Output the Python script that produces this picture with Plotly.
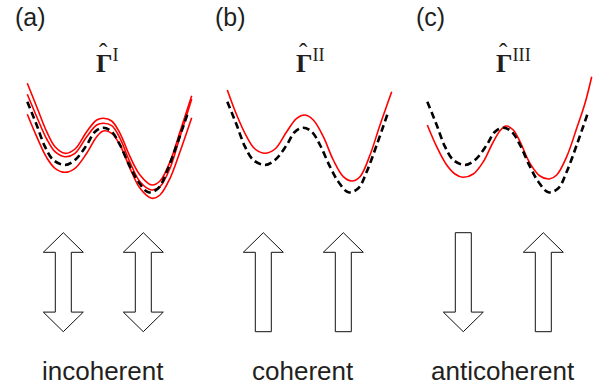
import plotly.graph_objects as go

# ---------------- data (panel-local units) ----------------
PANELS = ["a", "b", "c"]
PANEL_TAGS = ["(a)", "(b)", "(c)"]
OPERATORS = ["I", "II", "III"]
STATE_LABELS = ["incoherent", "coherent", "anticoherent"]

# unperturbed double-well (dashed, same in every panel)
BASE_X = [27.3, 36.7, 45, 53.3, 65, 75, 86.7, 95, 103.3, 111.7, 120, 130, 138.3, 148.3, 158.3, 166.7, 176.7, 188.3]
BASE_E = [101.7, 125, 146.7, 160, 165, 160, 145, 131.7, 127.7, 131.7, 145, 166.7, 181.7, 192.3, 188.3, 171.7, 145, 111.7]

# perturbed potentials (red)
A_X = [27.3, 36.7, 46.7, 55, 65, 75, 86.7, 96.7, 103.3, 111.7, 120, 130, 140, 151.7, 160, 170, 180, 191.7]
A_E1 = [83.3, 106.7, 131.7, 146.7, 153.3, 149, 131.7, 120, 118.3, 121, 133.3, 156.7, 175, 185, 181, 161.7, 131.7, 95.7]
A_E2 = [94.3, 116.7, 139, 151.7, 156.7, 153.3, 136.7, 125, 123.3, 125.7, 138.3, 162.3, 181.7, 190, 186.7, 168.3, 136.7, 99]
A_E3 = [114.3, 136.7, 157.7, 168.3, 172.3, 168.3, 153.3, 136.7, 131, 133.3, 145, 168.3, 188.3, 198.3, 195, 178.3, 151.7, 117.7]

B_X = [27.3, 36.7, 46.7, 55, 65, 75, 86.7, 96.7, 105, 113.3, 123.3, 133.3, 143.3, 151.7, 160, 170, 180, 191.7]
B_E = [90, 115, 136.7, 149, 153.3, 149, 131.7, 118.3, 115, 120, 136.7, 160, 176.7, 181, 176.7, 155, 125, 91.7]

C_X = [27.3, 36.7, 46.7, 55, 62.7, 73.3, 83.3, 91.7, 100, 106, 113.3, 120, 130, 140, 149.3, 156.7, 166.7, 176.7, 185, 191.7]
C_E = [125, 146.7, 165, 174, 177.3, 174, 161.7, 145, 130.7, 126, 130, 141.7, 163.3, 176, 179, 175, 156.7, 128.3, 103.3, 76.7]

RED_CURVES = [
    [(A_X, A_E1), (A_X, A_E2), (A_X, A_E3)],
    [(B_X, B_E)],
    [(C_X, C_E)],
]

# spin states shown by arrows
SPIN_STATES = [["both", "both"], ["up", "up"], ["down", "up"]]

# ---------------- geometry / style ----------------
W, H = 606, 392
PANEL_W = 200
ARROW_CX = [63.3, 143.3]
ARROW_TOP, ARROW_BOT = 232.7, 331.7
HEAD_H, HEAD_HW, SHAFT_HW = 19.6, 20.0, 8.0
RED = "#ff0000"
TXT = "#231f20"
SANS = "Liberation Sans, Arial, Helvetica"
SERIF = "Liberation Serif, Times New Roman, serif"


def arrow_poly(cx, kind):
    t, b = ARROW_TOP, ARROW_BOT
    l, r = cx - SHAFT_HW, cx + SHAFT_HW
    hl, hr = cx - HEAD_HW, cx + HEAD_HW
    if kind == "up":
        xs = [cx, hr, r, r, l, l, hl, cx]
        ys = [t, t + HEAD_H, t + HEAD_H, b, b, t + HEAD_H, t + HEAD_H, t]
    elif kind == "down":
        xs = [l, r, r, hr, cx, hl, l, l]
        ys = [t, t, b - HEAD_H, b - HEAD_H, b, b - HEAD_H, b - HEAD_H, t]
    else:
        xs = [cx, hr, r, r, hr, cx, hl, l, l, hl, cx]
        ys = [t, t + HEAD_H, t + HEAD_H, b - HEAD_H, b - HEAD_H, b,
              b - HEAD_H, b - HEAD_H, t + HEAD_H, t + HEAD_H, t]
    return xs, ys


fig = go.Figure()
annotations = []
for i, p in enumerate(PANELS):
    xa = "x" if i == 0 else f"x{i+1}"
    for cx_, ce_ in RED_CURVES[i]:
        fig.add_trace(go.Scatter(x=cx_, y=ce_, xaxis=xa, yaxis="y", mode="lines",
                                 line=dict(color=RED, width=1.6, shape="spline", smoothing=1.0),
                                 showlegend=False, hoverinfo="skip"))
    fig.add_trace(go.Scatter(x=BASE_X, y=BASE_E, xaxis=xa, yaxis="y", mode="lines",
                             line=dict(color="black", width=2.6, dash="7px,4px",
                                       shape="spline", smoothing=1.0),
                             showlegend=False, hoverinfo="skip"))
    for cx, kind in zip(ARROW_CX, SPIN_STATES[i]):
        xs, ys = arrow_poly(cx, kind)
        fig.add_trace(go.Scatter(x=xs, y=ys, xaxis=xa, yaxis="y", mode="lines",
                                 fill="toself", fillcolor="white",
                                 line=dict(color="#111111", width=1),
                                 showlegend=False, hoverinfo="skip"))
    annotations.append(dict(x=30, y=17, xref=xa, yref="y", text=PANEL_TAGS[i],
                            showarrow=False, xanchor="center", yanchor="middle",
                            font=dict(family=SANS, size=25, color=TXT)))
    # operator symbol: bold Gamma with roman-numeral superscript, plus hat
    annotations.append(dict(x=94, y=61, xref=xa, yref="y",
                            text=f"<b>\u0393</b><sup>{OPERATORS[i]}</sup>",
                            showarrow=False, xanchor="left", yanchor="middle",
                            font=dict(family=SERIF, size=26, color=TXT)))
    annotations.append(dict(x=103, y=52, xref=xa, yref="y", text="\u02c6",
                            showarrow=False, xanchor="center", yanchor="middle",
                            font=dict(family=SERIF, size=25, color=TXT)))
    annotations.append(dict(x=103, y=371, xref=xa, yref="y", text=STATE_LABELS[i],
                            showarrow=False, xanchor="center", yanchor="middle",
                            font=dict(family=SANS, size=26, color=TXT)))

layout = dict(width=W, height=H, margin=dict(l=0, r=0, t=0, b=0),
              paper_bgcolor="white", plot_bgcolor="white", annotations=annotations,
              yaxis=dict(range=[H, 0], domain=[0, 1], visible=False, fixedrange=True))
for i in range(3):
    key = "xaxis" if i == 0 else f"xaxis{i+1}"
    a = PANEL_W * i
    b = min(W, PANEL_W * (i + 1))
    layout[key] = dict(range=[0, b - a], domain=[a / W, b / W],
                       visible=False, anchor="y", fixedrange=True)
fig.update_layout(**layout)
fig.write_html("out.html", config={"displayModeBar": False},
               post_script="document.body.style.margin='0';document.body.style.overflow='hidden';")
